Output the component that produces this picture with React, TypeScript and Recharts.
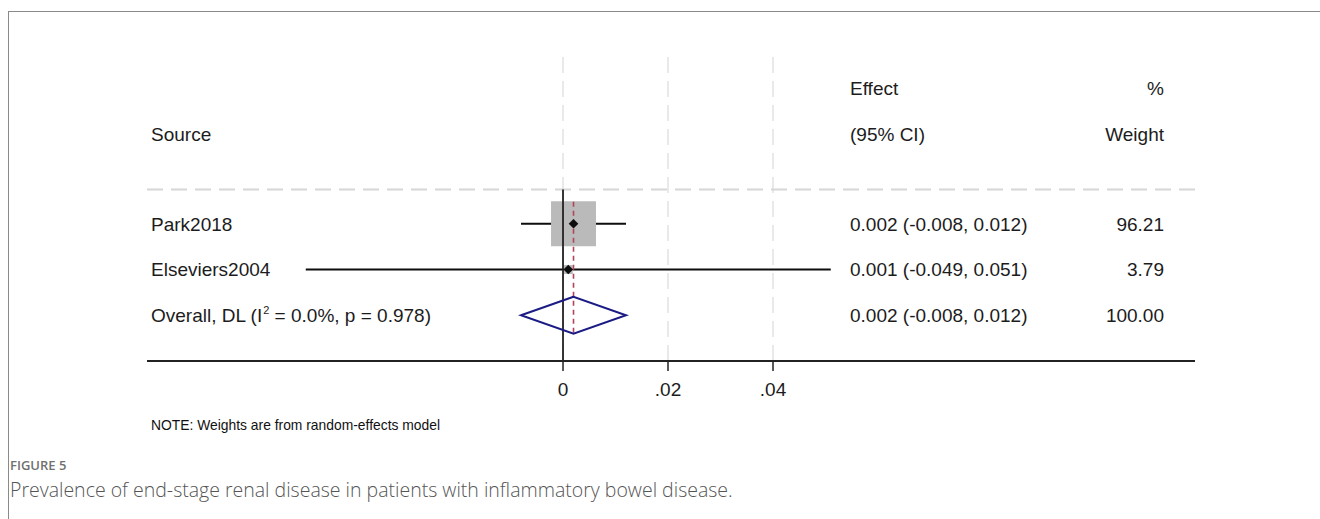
import React from 'react';
import {
  ComposedChart,
  XAxis,
  YAxis,
  ZAxis,
  Scatter,
  ErrorBar,
  ReferenceLine,
} from 'recharts';

// ---------- data ----------
const studyNames = ['Park2018', 'Elseviers2004'];
const studyEffects = [0.002, 0.001];
const studyLower = [-0.008, -0.049];
const studyUpper = [0.012, 0.051];
const studyWeights = [96.21, 3.79];

const overallLabelStart = 'Overall, DL (I';
const overallI2 = '0.0%';
const overallP = '0.978';
const overallEffect = 0.002;
const overallLower = -0.008;
const overallUpper = 0.012;
const overallWeight = 100.0;

const xTickValues = [0, 0.02, 0.04];
const xTickLabels = ['0', '.02', '.04'];

const headerLine1 = ['', 'Effect', '%'];
const headerLine2 = ['Source', '(95% CI)', 'Weight'];
const noteText = 'NOTE: Weights are from random-effects model';
const figureLabel = 'FIGURE 5';
const figureCaption =
  'Prevalence of end-stage renal disease in patients with inflammatory bowel disease.';

// ---------- layout (rows on a numeric y axis) ----------
const ROW_HEADER1 = -1.96;
const ROW_HEADER2 = -0.96;
const ROW_SEP = 0.25;
const Y_TOP = -2.8;
const Y_BOTTOM = 4;
const ROW_OVERALL = studyNames.length + 1;
const X_MIN = -0.07924;
const X_MAX = 0.12038;

const W = 1320;
const H = 519;
const COL_SOURCE = 151;
const COL_EFFECT = 850;
const COL_WEIGHT = 1164;
const FONT = '"Liberation Sans", Arial, sans-serif';
const TEXT_COLOR = '#1c1c1c';

const fmt3 = (v: number) => v.toFixed(3);

const studyData = studyNames.map((name, i) => ({
  name,
  y: i + 1,
  x: studyEffects[i],
  w: studyWeights[i],
  err: [studyEffects[i] - studyLower[i], studyUpper[i] - studyEffects[i]],
}));

const DIAMOND_HALF = 0.405;
const diamondData = [
  { x: overallLower, y: ROW_OVERALL },
  { x: overallEffect, y: ROW_OVERALL - DIAMOND_HALF },
  { x: overallUpper, y: ROW_OVERALL },
  { x: overallEffect, y: ROW_OVERALL + DIAMOND_HALF },
  { x: overallLower, y: ROW_OVERALL },
  { x: overallEffect, y: ROW_OVERALL - DIAMOND_HALF },
];

const nullLineData = [
  { x: 0, y: ROW_SEP },
  { x: 0, y: Y_BOTTOM },
];

const overallLineData = [
  { x: overallEffect, y: 1 - 0.48 },
  { x: overallEffect, y: ROW_OVERALL + 0.47 },
];

// text rows: one entry per table row (placed on the y scale)
const textRows = [
  { x: 0, y: ROW_HEADER1, kind: 'h1' },
  { x: 0, y: ROW_HEADER2, kind: 'h2' },
  ...studyNames.map((_, i) => ({ x: 0, y: i + 1, kind: 'study', idx: i })),
  { x: 0, y: ROW_OVERALL, kind: 'overall' },
];

const NoShape = () => <g />;

const MarkerShape = (p: any) => {
  const { cx, cy } = p;
  const r = 4.8;
  return (
    <path
      d={`M${cx},${cy - r}L${cx + r},${cy}L${cx},${cy + r}L${cx - r},${cy}Z`}
      fill="#0d0d0d"
    />
  );
};

const textProps = {
  fontFamily: FONT,
  fontSize: 19,
  fill: TEXT_COLOR,
  dy: '0.36em',
};

const RowTextShape = (props: any) => {
  const { cy, payload } = props;
  let cols: React.ReactNode[] = ['', '', ''];
  if (payload.kind === 'h1') {
    cols = headerLine1;
  } else if (payload.kind === 'h2') {
    cols = headerLine2;
  } else if (payload.kind === 'overall') {
    cols = [
      <>
        <tspan>{overallLabelStart}</tspan>
        <tspan dy={-8} dx={1} fontSize={11}>
          2
        </tspan>
        <tspan dy={8}>{` = ${overallI2}, p = ${overallP})`}</tspan>
      </>,
      `${fmt3(overallEffect)} (${fmt3(overallLower)}, ${fmt3(overallUpper)})`,
      overallWeight.toFixed(2),
    ];
  } else {
    const i = payload.idx;
    cols = [
      studyNames[i],
      `${fmt3(studyEffects[i])} (${fmt3(studyLower[i])}, ${fmt3(studyUpper[i])})`,
      studyWeights[i].toFixed(2),
    ];
  }
  return (
    <g>
      <text x={COL_SOURCE} y={cy} {...textProps} textAnchor="start">
        {cols[0]}
      </text>
      <text x={COL_EFFECT} y={cy} {...textProps} textAnchor="start">
        {cols[1]}
      </text>
      <text x={COL_WEIGHT} y={cy} {...textProps} textAnchor="end">
        {cols[2]}
      </text>
    </g>
  );
};

export default function App() {
  return (
    <div>
      {/* figure frame */}
      <div
        style={{
          position: 'absolute',
          left: 8,
          top: 11,
          width: W - 8,
          height: H - 11,
          boxSizing: 'border-box',
          borderTop: '1.5px solid #8a8a8a',
          borderLeft: '1.5px solid #8a8a8a',
        }}
      />
      <div style={{ position: 'absolute', left: 0, top: 0, width: W, height: H }}>
        <ComposedChart
          width={W}
          height={H}
          margin={{ top: 50, right: 125, bottom: 128, left: 147 }}
        >
          <XAxis
            type="number"
            dataKey="x"
            domain={[X_MIN, X_MAX]}
            allowDataOverflow
            ticks={xTickValues}
            interval={0}
            tickFormatter={(v: number) => xTickLabels[xTickValues.indexOf(v)] ?? String(v)}
            axisLine={{ stroke: '#222', strokeWidth: 2 }}
            tickLine={{ stroke: '#222', strokeWidth: 1.5 }}
            tickSize={10}
            tickMargin={12}
            height={30}
            tick={{ fontSize: 19, fill: TEXT_COLOR, fontFamily: FONT }}
          />
          <YAxis
            type="number"
            dataKey="y"
            domain={[Y_TOP, Y_BOTTOM]}
            allowDataOverflow
            reversed
            hide
          />
          <ZAxis type="number" dataKey="w" domain={[0, 100]} range={[0, 2100]} />
          {xTickValues.map((v) => (
            <ReferenceLine
              key={`grid-${v}`}
              x={v}
              stroke="#e2e2e2"
              strokeWidth={1.5}
              strokeDasharray="16 8"
            />
          ))}
          <ReferenceLine
            y={ROW_SEP}
            stroke="#d6d6d6"
            strokeWidth={2}
            strokeDasharray="16 8"
          />
          {/* weight squares */}
          <Scatter
            data={studyData}
            shape="square"
            fill="#bababa"
            isAnimationActive={false}
          />
          {/* null line */}
          <Scatter
            data={nullLineData}
            line={{ stroke: '#222', strokeWidth: 1.8 }}
            stroke="#222"
            shape={NoShape}
            isAnimationActive={false}
          />
          {/* overall effect line */}
          <Scatter
            data={overallLineData}
            line={{ stroke: '#b0455a', strokeWidth: 1.6, strokeDasharray: '5 4' }}
            stroke="#b0455a"
            shape={NoShape}
            isAnimationActive={false}
          />
          {/* CIs and point estimates */}
          <Scatter data={studyData} shape={MarkerShape} isAnimationActive={false}>
            <ErrorBar
              dataKey="err"
              direction="x"
              width={0}
              stroke="#0d0d0d"
              strokeWidth={2}
              isAnimationActive={false}
            />
          </Scatter>
          {/* pooled diamond */}
          <Scatter
            data={diamondData}
            line={{ stroke: '#1b1b85', strokeWidth: 2, strokeLinejoin: 'miter' }}
            stroke="#1b1b85"
            fill="none"
            shape={NoShape}
            isAnimationActive={false}
          />
          {/* table text */}
          <Scatter data={textRows} shape={RowTextShape} isAnimationActive={false} />
        </ComposedChart>
      </div>
      <svg
        width={W}
        height={H}
        style={{ position: 'absolute', left: 0, top: 0, pointerEvents: 'none' }}
      >
        <text
          x={COL_SOURCE}
          y={425}
          dy="0.36em"
          fontFamily={FONT}
          fontSize={14.5}
          fill="#111"
          textLength={289}
          lengthAdjust="spacingAndGlyphs"
        >
          {noteText}
        </text>
      </svg>
      <div
        style={{
          position: 'absolute',
          left: 10,
          top: 456,
          fontFamily: '"Open Sans", sans-serif',
          fontWeight: 600,
          fontSize: 13,
          color: '#707070',
          lineHeight: '18px',
          whiteSpace: 'nowrap',
        }}
      >
        {figureLabel}
      </div>
      <div
        style={{
          position: 'absolute',
          left: 10,
          top: 478,
          fontFamily: '"Open Sans", sans-serif',
          fontWeight: 300,
          fontSize: 19.5,
          color: '#555',
          lineHeight: '24px',
          whiteSpace: 'nowrap',
        }}
      >
        {figureCaption}
      </div>
    </div>
  );
}
